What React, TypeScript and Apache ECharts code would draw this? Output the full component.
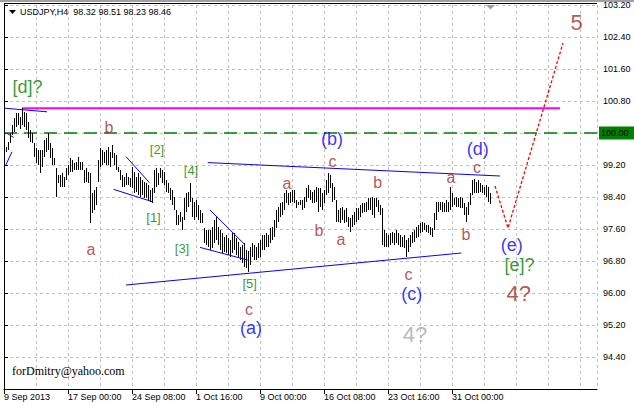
import React, { useEffect, useRef } from 'react';
import * as echarts from 'echarts';

// ---- data ----
const symbolName = 'USDJPY,H4';
const lastBar = { open: 98.32, high: 98.51, low: 98.23, close: 98.46 };

const timeLabels = ['9 Sep 2013', '17 Sep 00:00', '24 Sep 08:00', '1 Oct 16:00', '9 Oct 00:00', '16 Oct 08:00', '23 Oct 16:00', '31 Oct 00:00'];
const barsPerTimeLabel = 32;
const barsPerGrid = 16;
const priceStep = 0.8;
const priceMin = 93.6;
const priceMax = 103.2;
const slotMax = 296.5;

// H4 bar highs / lows (bar index 1..243)
const highs = [
  99.66, 99.78, 99.99, 100.2, 100.37, 100.49, 100.49, 100.41, 100.62, 100.53,
  100.49, 100.28, 100.08, 99.99, 99.74, 99.62, 99.58, 99.58, 99.58, 99.83,
  99.87, 99.99, 99.74, 99.62, 99.37, 99.12, 98.95, 98.95, 98.99, 98.91,
  99.12, 99.2, 99.37, 99.33, 99.24, 99.28, 99.41, 99.28, 99.28, 99.08,
  99.12, 99.03, 98.99, 98.49, 98.58, 98.66, 99.33, 99.62, 99.58, 99.53,
  99.58, 99.66, 99.53, 99.7, 99.49, 99.45, 99.16, 99.08, 98.95, 98.91,
  98.99,
  98.91, 98.87, 99.16, 99.03, 98.91, 98.99, 98.91, 98.83, 98.78,
  98.74, 98.7, 98.58, 98.62, 99.08, 99.12, 98.99, 99.12, 99.08, 99.03,
  98.83, 98.74, 98.62, 98.58, 98.41, 98.08, 97.95, 98.03, 97.91, 98.37,
  98.49, 98.53, 98.74, 98.37, 98.28, 98.33, 98.2, 98.08, 97.99, 97.62,
  97.57, 97.57, 97.57, 97.66, 97.82, 97.91, 97.66, 97.57, 97.49, 97.41,
  97.45, 97.37, 97.33, 97.49, 97.49, 97.37, 97.28, 97.16, 97.2, 97.24, 97.08, 97.05,
  97.14, 97.24, 97.2, 97.16, 97.24, 97.32, 97.45, 97.45,
  97.49, 97.45, 97.62, 97.66, 97.82, 98.08, 98.16, 98.24, 98.28, 98.49,
  98.57, 98.49, 98.53, 98.57, 98.57, 98.32, 98.28, 98.32, 98.32, 98.41,
  98.62, 98.7, 98.57, 98.53, 98.57, 98.66, 98.62, 98.62, 98.49, 98.57,
  98.82, 98.99, 98.95, 98.74, 98.66, 98.32, 98.07, 98.12, 98.16, 98.07,
  98.12, 97.91, 97.87, 97.95, 98.03, 98.12, 98.12, 98.2, 98.24, 98.24,
  98.28, 98.37, 98.37, 98.41, 98.37, 98.37, 98.32, 98.2, 98.12, 97.57,
  97.49, 97.45, 97.49, 97.53, 97.49, 97.57, 97.49, 97.45, 97.41, 97.45,
  97.32, 97.37, 97.45, 97.53, 97.57, 97.66, 97.7, 97.74, 97.78, 97.74,
  97.7, 97.7, 97.66, 97.62, 97.99, 98.28, 98.28, 98.28, 98.28, 98.24,
  98.32, 98.28, 98.66, 98.49, 98.37, 98.41, 98.37, 98.41, 98.37, 98.24,
  98.16, 98.28, 98.49, 98.82, 98.84, 98.78, 98.82, 98.74, 98.7, 98.66,
  98.7, 98.66, 98.51,
];
const lows = [
  99.52, 99.58, 99.76, 99.95, 100.03, 100.16, 100.2, 100.09, 100.2, 100.16,
  100.08, 99.87, 99.78, 99.74, 99.41, 99.24, 99.2, 98.99, 99.16, 99.41,
  99.53, 99.58, 99.37, 99.2, 99.2, 98.41, 98.74, 98.66, 98.66, 98.66,
  98.83, 98.95, 99.03, 99.03, 99.08, 99.08, 99.08, 99.08, 99.08, 98.74,
  98.78, 98.74, 97.74, 97.99, 98.08, 98.2, 98.78, 99.16, 99.2, 99.24,
  99.2, 99.2, 99.16, 99.37, 99.2, 99.08, 99.03, 98.83, 98.66, 98.66,
  98.7,
  98.7, 98.66, 98.62, 98.49, 98.53, 98.45, 98.41, 98.45, 98.37,
  98.37, 98.33, 98.28, 98.24, 98.49, 98.66, 98.7, 98.87, 98.74, 98.7,
  98.53, 98.49, 98.33, 98.2, 98.08, 97.7, 97.7, 97.78, 97.58, 97.83,
  98.03, 98.16, 98.28, 97.91, 97.83, 97.91, 97.83, 97.74, 97.74, 97.24,
  97.2, 97.16, 97.08, 97.12, 97.24, 97.33, 97.2, 97.08, 96.99, 97.03,
  96.99, 96.95, 96.91, 96.99, 97.08, 96.95, 96.87, 96.83, 96.74, 96.66, 96.62, 96.53,
  96.7, 96.91, 96.83, 96.83, 96.87, 96.91, 97.08, 97.08,
  97.16, 97.16, 97.24, 97.32, 97.41, 97.62, 97.78, 97.91, 97.95, 98.08,
  98.24, 98.2, 98.24, 98.28, 98.24, 98.12, 98.2, 98.2, 98.07, 98.12,
  98.28, 98.37, 98.32, 98.24, 98.24, 98.28, 98.03, 98.16, 98.07, 98.24,
  98.45, 98.49, 98.62, 98.28, 98.32, 97.78, 97.78, 97.74, 97.82, 97.74,
  97.78, 97.66, 97.53, 97.66, 97.7, 97.78, 97.82, 97.91, 97.99, 98.03,
  98.03, 98.07, 98.07, 97.95, 97.87, 98.16, 98.03, 97.95, 97.2, 97.16,
  97.16, 97.16, 97.2, 97.24, 97.2, 97.24, 97.2, 97.16, 97.16, 97.12,
  96.91, 97.03, 97.16, 97.24, 97.28, 97.37, 97.41, 97.49, 97.53, 97.57,
  97.53, 97.49, 97.45, 97.41, 97.57, 97.82, 98.03, 98.07, 98.03, 98.03,
  98.03, 98.03, 98.07, 98.16, 98.2, 98.16, 98.16, 98.12, 98.12, 97.95,
  97.78, 97.95, 98.2, 98.45, 98.49, 98.49, 98.49, 98.53, 98.49, 98.45,
  98.41, 98.28, 98.23,
];

// annotation lines: [barIndex, price]
const magentaLevel = [[9, 100.62], [278, 100.62]];
const greenLevelPrice = 100.0;
const greenLevel = [[0, greenLevelPrice], [slotMax, greenLevelPrice]];
const blueLines = [
  [[0.35, 100.62], [21.5, 100.53]],
  [[1.5, 99.99], [4.8, 99.89]],
  [[0.65, 99.175], [4, 99.53]],
  [[61, 99.41], [72.7, 98.76]],
  [[54.85, 98.59], [74.35, 98.28]],
  [[103, 98.075], [120.2, 97.22]],
  [[98, 97.14], [121.8, 96.825]],
  [[101.85, 99.26], [248, 98.925]],
  [[61, 96.2], [228.7, 97.0]],
];
const projection = [[245.5, 98.675], [252, 97.625], [279.5, 102.25]];

// wave labels: text, barIndex, price, style kind
const waveLabels = [
  ['[d]?', 11.75, 101.15, 'green'],
  ['b', 52.5, 100.15, 'brown'],
  ['a', 43.5, 97.1, 'brown'],
  ['[2]', 76.5, 99.6, 'greenSmall'],
  ['[1]', 74.75, 97.89, 'greenSmall'],
  ['[4]', 93.5, 99.075, 'greenSmall'],
  ['[3]', 89, 97.125, 'greenSmall'],
  ['[5]', 122.85, 96.25, 'greenSmall'],
  ['c', 122.5, 95.6, 'brown'],
  ['(a)', 123.5, 95.125, 'blue'],
  ['a', 141.5, 98.75, 'brown'],
  ['(b)', 164, 99.84, 'blue'],
  ['c', 164.25, 99.3, 'brown'],
  ['b', 157.5, 97.575, 'brown'],
  ['a', 168.5, 97.35, 'brown'],
  ['b', 186.85, 98.775, 'brown'],
  ['c', 202.25, 96.47, 'brown'],
  ['(c)', 203.85, 95.975, 'blue'],
  ['4?', 205.5, 94.96, 'gray'],
  ['a', 223.5, 98.9, 'brown'],
  ['b', 231, 97.46, 'brown'],
  ['(d)', 236.85, 99.6, 'blue'],
  ['c', 236.5, 99.15, 'brown'],
  ['(e)', 253.85, 97.2, 'blue'],
  ['[e]?', 257.75, 96.69, 'green'],
  ['4?', 257.35, 96.0, 'brownBig'],
  ['5', 286.35, 102.775, 'brownBig'],
];

const labelStyles: Record<string, { color: string; fontSize: number }> = {
  green: { color: '#008000', fontSize: 18 },
  greenSmall: { color: '#008000', fontSize: 13 },
  brown: { color: '#a52a2a', fontSize: 16 },
  brownBig: { color: '#a52a2a', fontSize: 22 },
  blue: { color: '#0000ff', fontSize: 18 },
  gray: { color: '#a8a8a8', fontSize: 22 },
};

const UI_FONT = '"Liberation Sans", Arial, sans-serif';

export default function App() {
  const ref = useRef<HTMLDivElement>(null);

  useEffect(() => {
    document.body.style.margin = '0';
    if (!ref.current) return;
    const chart = echarts.init(ref.current, null, { renderer: 'svg' });

    const barData = highs.map((h, i) => [i + 1, h, lows[i]]);
    const timeTickValues = timeLabels.map((_, i) => i * barsPerTimeLabel);

    const lineSeries = (data: number[][], color: string, width: number, type: any, z = 3) => ({
      type: 'line',
      xAxisIndex: 0,
      yAxisIndex: 0,
      data,
      symbol: 'none',
      showSymbol: false,
      silent: true,
      animation: false,
      z,
      lineStyle: { color, width, type },
    });

    const gridY = (p: number) => 5 + (priceMax - p) * 40;

    const option: any = {
      animation: false,
      backgroundColor: '#ffffff',
      grid: { left: 4, top: 5, width: 593, height: 384, containLabel: false, outerBoundsMode: 'none' },
      xAxis: [
        {
          type: 'value',
          min: 0,
          max: slotMax,
          interval: barsPerGrid,
          axisLine: { show: false },
          axisTick: { show: false },
          axisLabel: { show: false },
          splitLine: { show: true, lineStyle: { color: '#c0c0c0', width: 1, type: [3, 3] } },
        },
        {
          type: 'value',
          min: 0,
          max: slotMax,
          interval: barsPerTimeLabel,
          position: 'bottom',
          axisLine: { show: true, onZero: false, lineStyle: { color: '#000', width: 1 } },
          axisTick: { show: true, length: 5, lineStyle: { color: '#000' }, customValues: timeTickValues },
          axisLabel: {
            customValues: timeTickValues,
            formatter: (v: number) => {
              const i = Math.round(v / barsPerTimeLabel);
              return Math.abs(v - i * barsPerTimeLabel) < 1e-6 && timeLabels[i] ? timeLabels[i] : '';
            },
            align: 'left',
            margin: 3,
            fontSize: 9,
            color: '#000',
            fontFamily: UI_FONT,
          },
          splitLine: { show: false },
        },
      ],
      yAxis: {
        type: 'value',
        position: 'right',
        min: priceMin,
        max: priceMax,
        interval: priceStep,
        axisLine: { show: true, lineStyle: { color: '#000', width: 1 } },
        axisTick: { show: true, length: 4, lineStyle: { color: '#000' } },
        axisLabel: {
          margin: 6,
          fontSize: 9,
          color: '#000',
          fontFamily: UI_FONT,
          formatter: (v: number) =>
            Math.abs(v - priceMin) < 1e-6 || Math.abs(v - greenLevelPrice) < 1e-6 ? '' : v.toFixed(2),
        },
        splitLine: { show: true, lineStyle: { color: '#c0c0c0', width: 1, type: [3, 3] } },
      },
      series: [
        lineSeries(greenLevel, '#008000', 1.5, [13, 7], 2),
        lineSeries(magentaLevel, '#ff00ff', 2, 'solid', 2),
        {
          type: 'custom',
          xAxisIndex: 0,
          yAxisIndex: 0,
          data: barData,
          silent: true,
          z: 4,
          encode: { x: 0, y: [1, 2] },
          renderItem: (params: any, api: any) => {
            const k = api.value(0);
            const top = api.coord([k, api.value(1)]);
            const bot = api.coord([k, api.value(2)]);
            const x = Math.round(top[0]) + 0.5;
            return {
              type: 'line',
              shape: { x1: x, y1: Math.round(top[1]), x2: x, y2: Math.round(bot[1]) },
              style: { stroke: '#000', lineWidth: 1 },
            };
          },
        },
        ...blueLines.map((l) => lineSeries(l, '#0000ff', 1, 'solid', 5)),
        lineSeries(projection, '#ff0000', 1.3, [3, 2], 5),
        {
          type: 'scatter',
          xAxisIndex: 0,
          yAxisIndex: 0,
          symbolSize: 0,
          silent: true,
          z: 10,
          data: waveLabels.map(([text, k, p, kind]) => ({
            value: [k, p],
            label: {
              show: true,
              position: 'inside',
              formatter: text as string,
              color: labelStyles[kind as string].color,
              fontSize: labelStyles[kind as string].fontSize,
              fontFamily: UI_FONT,
            },
          })),
        },
      ],
      graphic: [
        { type: 'rect', shape: { x: 0, y: 0, width: 634, height: 2 }, style: { fill: '#a0a0a0' }, z: 50 },
        { type: 'line', shape: { x1: 4, y1: 3.5, x2: 597, y2: 3.5 }, style: { stroke: '#000', lineWidth: 1 }, z: 50 },
        { type: 'line', shape: { x1: 4.5, y1: 3, x2: 4.5, y2: 389 }, style: { stroke: '#000', lineWidth: 1 }, z: 50 },
        { type: 'polygon', shape: { points: [[9, 10], [16, 10], [12.5, 14]] }, style: { fill: '#000' }, z: 50 },
        {
          type: 'text',
          x: 20,
          y: 11.5,
          style: {
            text: `${symbolName}  ${lastBar.open.toFixed(2)} ${lastBar.high.toFixed(2)} ${lastBar.low.toFixed(2)} ${lastBar.close.toFixed(2)}`,
            fill: '#000',
            fontSize: 9,
            fontFamily: UI_FONT,
            verticalAlign: 'middle',
            align: 'left',
          },
          z: 50,
        },
        { type: 'polygon', shape: { points: [[486, 5], [495, 5], [490.5, 9.5]] }, style: { fill: '#a0a0a0' }, z: 50 },
        { type: 'rect', shape: { x: 599, y: gridY(greenLevelPrice) - 6.5, width: 35, height: 13 }, style: { fill: '#008000' }, z: 60 },
        {
          type: 'text',
          x: 601,
          y: gridY(greenLevelPrice),
          style: { text: greenLevelPrice.toFixed(2), fill: '#000', fontSize: 9, fontFamily: UI_FONT, verticalAlign: 'middle', align: 'left' },
          z: 61,
        },
        {
          type: 'text',
          x: 12,
          y: 371,
          style: { text: 'forDmitry@yahoo.com', fill: '#000', fontSize: 12, fontFamily: '"Liberation Serif", "Times New Roman", serif', verticalAlign: 'middle', align: 'left' },
          z: 50,
        },
      ],
    };

    chart.setOption(option);
    return () => chart.dispose();
  }, []);

  return <div ref={ref} style={{ width: 634, height: 405 }} />;
}
